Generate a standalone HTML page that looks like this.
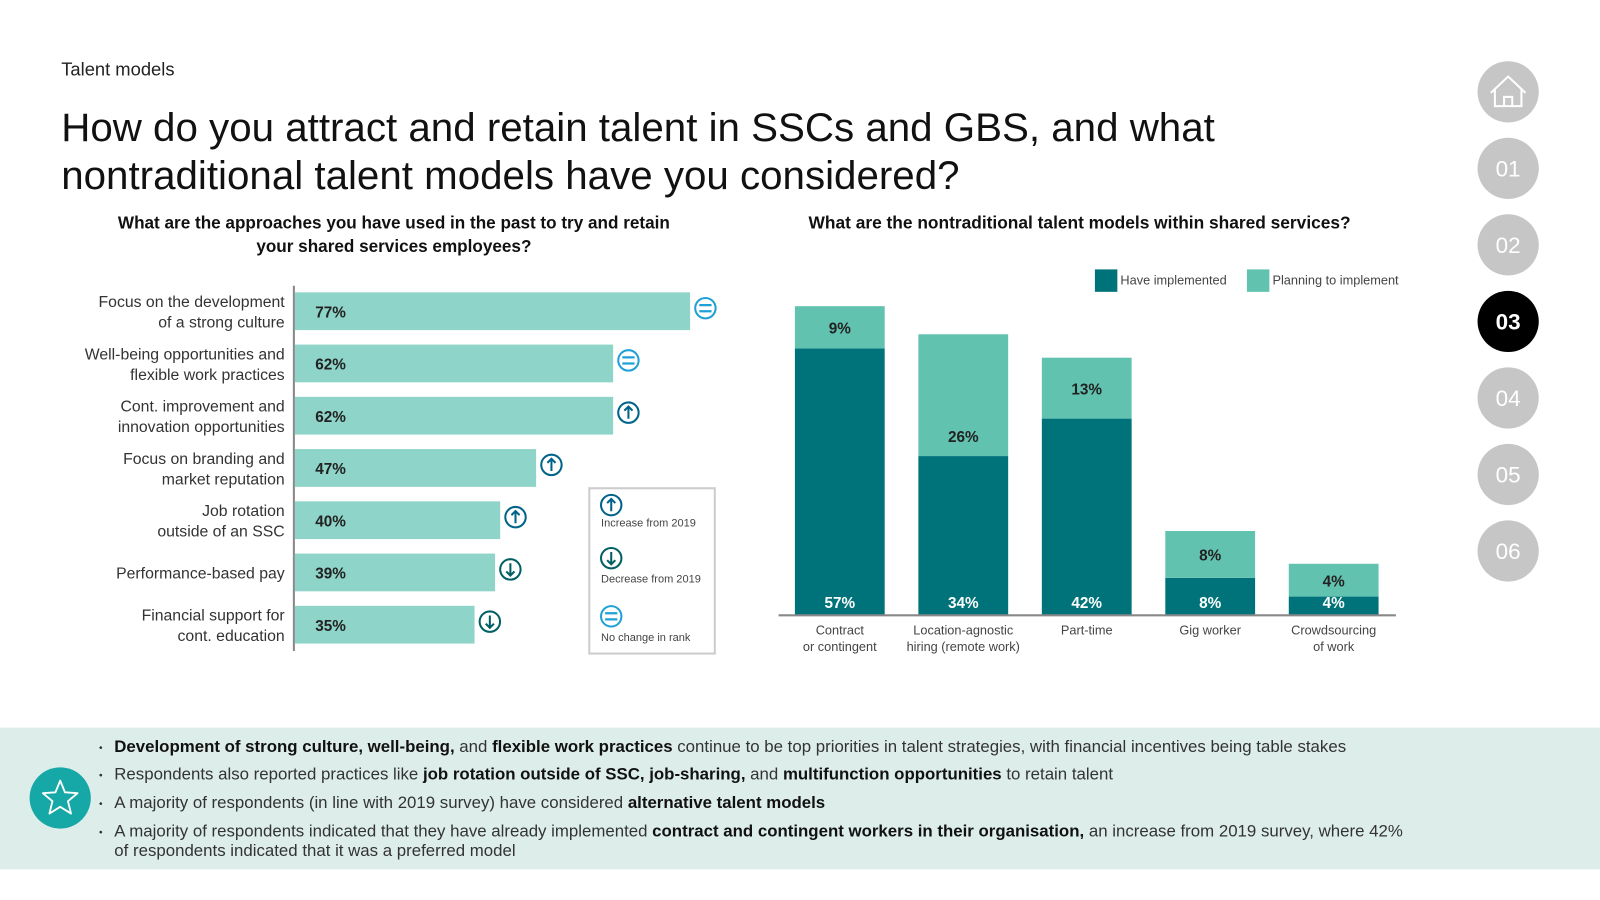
<!DOCTYPE html>
<html><head><meta charset="utf-8"><style>
html,body{margin:0;padding:0;background:#fff;}
svg{display:block;font-family:"Liberation Sans","DejaVu Sans",sans-serif;}
</style></head><body>
<svg id="s" width="1600" height="900" viewBox="0 0 1568 882">
<text x="60" y="74" font-size="18" fill="#222">Talent models</text>
<text x="60" y="138" font-size="39.5" fill="#111">How do you attract and retain talent in SSCs and GBS, and what</text>
<text x="60" y="185" font-size="39.5" fill="#111">nontraditional talent models have you considered?</text>
<text x="386" y="224" font-size="16.8" font-weight="bold" text-anchor="middle" fill="#111">What are the approaches you have used in the past to try and retain</text>
<text x="386" y="247" font-size="16.8" font-weight="bold" text-anchor="middle" fill="#111">your shared services employees?</text>
<text x="1058" y="224" font-size="17" font-weight="bold" text-anchor="middle" fill="#111">What are the nontraditional talent models within shared services?</text>
<g id="left"></g>
<g id="right"></g>
<g>
<rect x="577.5" y="478.5" width="123" height="162" fill="#fff" stroke="#ccc" stroke-width="2"/>
<g id="lg"></g>
<text x="589" y="516" font-size="10.8" fill="#444">Increase from 2019</text>
<text x="589" y="571" font-size="10.8" fill="#444">Decrease from 2019</text>
<text x="589" y="628" font-size="10.8" fill="#444">No change in rank</text>
</g>
<g>
<rect x="1073" y="264" width="22" height="22" fill="#00737a"/>
<text x="1098" y="279" font-size="12.5" fill="#444">Have implemented</text>
<rect x="1222" y="264" width="22" height="22" fill="#62c2b0"/>
<text x="1247" y="279" font-size="12.5" fill="#444">Planning to implement</text>
</g>
<g id="nav"></g>
<rect x="0" y="713" width="1568" height="139" fill="#ddeeea"/>
<circle cx="59" cy="782" r="30" fill="#16a8a6"/>
<polygon points="59,765 63.7,776.5 76,777.3 66.6,785.2 69.6,797.3 59,790.7 48.4,797.3 51.4,785.2 42,777.3 54.3,776.5" fill="none" stroke="#fff" stroke-width="1.8" stroke-linejoin="round"/>
<g font-size="16.5" fill="#333">
<text x="97" y="736" font-size="10">•</text><text x="112" y="737"><tspan font-weight="bold" fill="#111">Development of strong culture, well-being,</tspan> and <tspan font-weight="bold" fill="#111">flexible work practices</tspan> continue to be top priorities in talent strategies, with financial incentives being table stakes</text>
<text x="97" y="763" font-size="10">•</text><text x="112" y="764">Respondents also reported practices like <tspan font-weight="bold" fill="#111">job rotation outside of SSC, job-sharing,</tspan> and <tspan font-weight="bold" fill="#111">multifunction opportunities</tspan> to retain talent</text>
<text x="97" y="791" font-size="10">•</text><text x="112" y="792">A majority of respondents (in line with 2019 survey) have considered <tspan font-weight="bold" fill="#111">alternative talent models</tspan></text>
<text x="97" y="819" font-size="10">•</text><text x="112" y="820">A majority of respondents indicated that they have already implemented <tspan font-weight="bold" fill="#111">contract and contingent workers in their organisation,</tspan> an increase from 2019 survey, where 42%</text>
<text x="112" y="839">of respondents indicated that it was a preferred model</text>
</g>
</svg>
<script>
const NS="http://www.w3.org/2000/svg";
const leftLabels=[["Focus on the development","of a strong culture"],["Well-being opportunities and","flexible work practices"],["Cont. improvement and","innovation opportunities"],["Focus on branding and","market reputation"],["Job rotation","outside of an SSC"],["Performance-based pay"],["Financial support for","cont. education"]];
const leftValues=[77,62,62,47,40,39,35];
const leftChange=["eq","eq","up","up","up","down","down"];
const rightCats=[["Contract","or contingent"],["Location-agnostic","hiring (remote work)"],["Part-time"],["Gig worker"],["Crowdsourcing","of work"]];
const haveImpl=[57,34,42,8,4];
const planImpl=[9,26,13,10,7];
const haveLabels=["57%","34%","42%","8%","4%"];
const planLabels=["9%","26%","13%","8%","4%"];

function mk(tag,attrs,parent,txt){const e=document.createElementNS(NS,tag);for(const k in attrs)e.setAttribute(k,attrs[k]);if(txt!==undefined)e.textContent=txt;parent.appendChild(e);return e;}
function icon(parent,type,cx,cy){
  const col=type==="up"?"#00638a":type==="down"?"#005f63":"#1fa0d6";
  const g=mk("g",{},parent);
  
  
  mk("circle",{cx:cx,cy:cy,r:10,fill:"#fff",stroke:col,"stroke-width":2},g);
  if(type==="up"){mk("path",{d:`M${cx} ${cy+6}V${cy-6}M${cx-4} ${cy-2}L${cx} ${cy-6}L${cx+4} ${cy-2}`,stroke:col,"stroke-width":2,fill:"none"},g);}
  else if(type==="down"){mk("path",{d:`M${cx} ${cy-6}V${cy+6}M${cx-4} ${cy+2}L${cx} ${cy+6}L${cx+4} ${cy+2}`,stroke:col,"stroke-width":2,fill:"none"},g);}
  else{mk("path",{d:`M${cx-6} ${cy-3}H${cx+6}M${cx-6} ${cy+3}H${cx+6}`,stroke:col,"stroke-width":2.2},g);}
}
const L=document.getElementById("left");
const x0=289, pxPer=5.03;
const xs=v=>x0+v*pxPer;
const rowY=i=>305+i*51.2;
mk("line",{x1:288,y1:280,x2:288,y2:638,stroke:"#888","stroke-width":2},L);
leftValues.forEach((v,i)=>{
  const cy=rowY(i);
  const r=mk("rect",{x:x0,y:cy-18.5,width:xs(v)-x0,height:37,fill:"#8ed4c8"},L);
  
  
  mk("text",{x:x0+20,y:cy+6,"font-size":15,"font-weight":"bold",fill:"#222"},L,v+"%");
  const lab=leftLabels[i];
  lab.forEach((t,j)=>{
    const y=lab.length===1?cy+6:cy-4+j*20;
    const te=mk("text",{x:279,y:y,"font-size":15.5,"text-anchor":"end",fill:"#333"},L,t);
    
    
  });
  icon(L,leftChange[i],xs(v)+15,cy-3);
});
const LG=document.getElementById("lg");
icon(LG,"up",599,495);icon(LG,"down",599,547);icon(LG,"eq",599,604);
const R=document.getElementById("right");
const base=603, py=4.59;
const ys=v=>base-v*py;
const bx=i=>779+i*121, bw=88;
rightCats.forEach((c,i)=>{
  const h=haveImpl[i], p=planImpl[i];
  const r1=mk("rect",{x:bx(i),y:ys(h),width:bw,height:base-ys(h),fill:"#00737a"},R);
  
  
  const r2=mk("rect",{x:bx(i),y:ys(h+p),width:bw,height:ys(h)-ys(h+p),fill:"#62c2b0"},R);
  
  
  const cx=bx(i)+bw/2;
  mk("text",{x:cx,y:base-7,"font-size":15,"font-weight":"bold","text-anchor":"middle",fill:"#fff"},R,haveLabels[i]);
  const segH=ys(h)-ys(h+p);
  const ly=segH>80?ys(h)-14:(ys(h)+ys(h+p))/2+6;
  mk("text",{x:cx,y:ly,"font-size":15,"font-weight":"bold","text-anchor":"middle",fill:"#222"},R,planLabels[i]);
  c.forEach((t,j)=>{
    const te=mk("text",{x:cx,y:622+j*16,"font-size":12.5,"text-anchor":"middle",fill:"#444"},R,t);
    
    
  });
});
mk("line",{x1:763,y1:603,x2:1368,y2:603,stroke:"#888","stroke-width":2},R);
const N=document.getElementById("nav");
const navItems=["home","01","02","03","04","05","06"];
navItems.forEach((t,i)=>{
  const cy=90+i*75;
  const c=mk("circle",{cx:1478,cy:cy,r:30,fill:t==="03"?"#000":"#c6c6c6"},N);
  
  
  if(t==="home"){
    mk("path",{d:"M1461 91L1478 75L1495 91M1465 88V104H1491V88M1474 104V95H1482V104",stroke:"#fff","stroke-width":2,fill:"none"},N);
  } else {
    mk("text",{x:1478,y:cy+8,"font-size":22,"text-anchor":"middle",fill:"#fff","font-weight":t==="03"?"bold":"normal"},N,t);
  }
});
</script>
</body></html>
